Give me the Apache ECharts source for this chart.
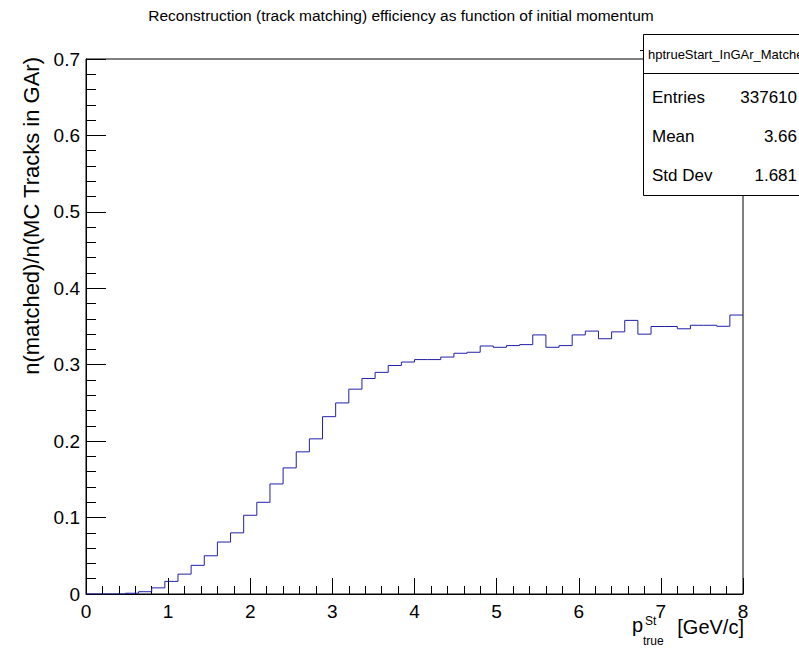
<!DOCTYPE html>
<html>
<head>
<meta charset="utf-8">
<script src="https://cdn.jsdelivr.net/npm/echarts@6/dist/echarts.min.js"></script>
<style>
html,body{margin:0;padding:0;background:#fff;}
#chart{width:799px;height:648px;}
</style>
</head>
<body>
<div id="chart"></div>
<script>
// Histogram definition: 50 bins from 0 to 8 GeV/c
const xMin = 0;
const xMax = 8;
const nBins = 50;
// Efficiency per bin
const efficiency = [
  0, 0, 0, 0.001, 0.003, 0.008, 0.0165, 0.026, 0.0375, 0.050,
  0.068, 0.080, 0.103, 0.120, 0.144, 0.165, 0.186, 0.203, 0.232, 0.250,
  0.268, 0.282, 0.290, 0.299, 0.3035, 0.3067, 0.3067, 0.310, 0.315, 0.3163,
  0.3245, 0.3228, 0.325, 0.3263, 0.339, 0.3228, 0.325, 0.339, 0.344, 0.334,
  0.343, 0.358, 0.340, 0.350, 0.350, 0.347, 0.3516, 0.3516, 0.3503, 0.365
];
const xTicks = ['0','1','2','3','4','5','6','7','8'];
const yTicks = ['0','0.1','0.2','0.3','0.4','0.5','0.6','0.7'];
const statsName = 'hptrueStart_InGAr_Matched';
const statsLabels = ['Entries', 'Mean', 'Std Dev'];
const statsValues = ['337610', '3.66', '1.681'];
const chartTitle = 'Reconstruction (track matching) efficiency as function of initial momentum';
const yTitle = 'n(matched)/n(MC Tracks in GAr)';

const binW = (xMax - xMin) / nBins;
const stepData = efficiency.map((v, i) => [xMin + i * binW, v]);
stepData.push([xMax, efficiency[efficiency.length - 1]]);

const FONT = '"Liberation Sans", Arial, Helvetica, sans-serif';
const chart = echarts.init(document.getElementById('chart'), null, {renderer: 'svg'});

const statsGraphics = [
  {type:'rect', shape:{x:643.5, y:34.5, width:170, height:161}, style:{fill:'#fff', stroke:'#000', lineWidth:1}, z:100},
  {type:'line', shape:{x1:643.5, y1:73.5, x2:800, y2:73.5}, style:{stroke:'#000', lineWidth:1}, z:101},
  {type:'line', shape:{x1:640, y1:50.5, x2:644, y2:50.5}, style:{stroke:'#000', lineWidth:1}, z:101},
  {type:'text', x:648, y:54, z:102, style:{text:statsName, font:'13px ' + FONT, fill:'#000', textVerticalAlign:'middle', textAlign:'left'}}
];
statsLabels.forEach((lab, i) => {
  const y = 97 + i * 39;
  statsGraphics.push({type:'text', x:652, y:y, z:102, style:{text:lab, font:'17px ' + FONT, fill:'#000', textVerticalAlign:'middle', textAlign:'left'}});
  statsGraphics.push({type:'text', x:797, y:y, z:102, style:{text:statsValues[i], font:'17px ' + FONT, fill:'#000', textVerticalAlign:'middle', textAlign:'right'}});
});

const option = {
  backgroundColor: '#fff',
  animation: false,
  grid: {left: 86, right: 56, top: 59, bottom: 54, show: true, borderColor: '#000', borderWidth: 1, backgroundColor: 'transparent'},
  xAxis: {
    type: 'value', min: xMin, max: xMax, interval: 1,
    axisLine: {show: true, onZero: false, lineStyle: {color: '#000', width: 1}},
    axisTick: {show: true, inside: true, length: 16, lineStyle: {color: '#000'}},
    minorTick: {show: true, splitNumber: 5, length: 8, lineStyle: {color: '#000'}},
    splitLine: {show: false},
    axisLabel: {color: '#000', fontSize: 19, fontFamily: FONT, margin: 8,
      formatter: v => xTicks[Math.round(v)]}
  },
  yAxis: {
    type: 'value', min: 0, max: 0.7, interval: 0.1,
    axisLine: {show: true, onZero: false, lineStyle: {color: '#000', width: 1}},
    axisTick: {show: true, inside: true, length: 20, lineStyle: {color: '#000'}},
    minorTick: {show: true, splitNumber: 5, length: 10, lineStyle: {color: '#000'}},
    splitLine: {show: false},
    axisLabel: {color: '#000', fontSize: 19, fontFamily: FONT, margin: 6,
      formatter: v => yTicks[Math.round(v * 10)]}
  },
  series: [{
    type: 'line', step: 'end', data: stepData, symbol: 'none',
    lineStyle: {color: '#2020aa', width: 1}, clip: true
  }],
  graphic: [
    {type:'text', x:401, y:15, style:{text:chartTitle, font:'15.5px ' + FONT, fill:'#000', textAlign:'center', textVerticalAlign:'middle'}},
    {type:'text', x:31, y:57, rotation: Math.PI/2, style:{text:yTitle, font:'22px ' + FONT, fill:'#000', textAlign:'right', textVerticalAlign:'middle'}},
    {type:'text', x:744, y:627, style:{text:'[GeV/c]', font:'20px ' + FONT, fill:'#000', textAlign:'right', textVerticalAlign:'middle'}},
    {type:'text', x:632, y:625, style:{text:'p', font:'20px ' + FONT, fill:'#000', textAlign:'left', textVerticalAlign:'middle'}},
    {type:'text', x:645, y:621, style:{text:'St', font:'12px ' + FONT, fill:'#000', textAlign:'left', textVerticalAlign:'middle'}},
    {type:'text', x:643, y:641, style:{text:'true', font:'12px ' + FONT, fill:'#000', textAlign:'left', textVerticalAlign:'middle'}}
  ].concat(statsGraphics)
};
chart.setOption(option);
</script>
</body>
</html>
